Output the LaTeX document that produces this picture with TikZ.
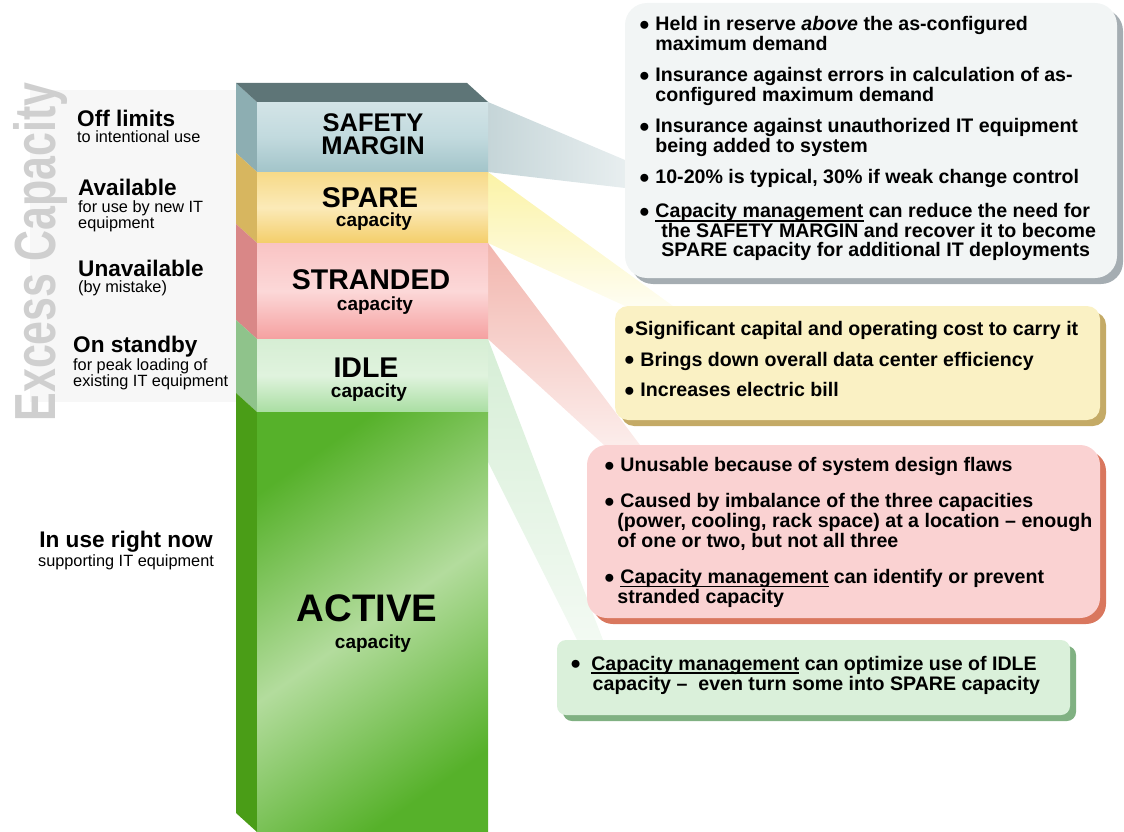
\documentclass[tikz,border=0pt]{standalone}
\usepackage{fontspec}
\setmainfont{Liberation Sans}
\usetikzlibrary{positioning, calc, shadows, backgrounds}

% bar colours: S = side, A/B/C = front face top/middle/bottom
\definecolor{topface}{HTML}{5E7577}
\definecolor{safetyS}{HTML}{8DAEB2}
\definecolor{safetyA}{HTML}{D3E4E7}
\definecolor{safetyB}{HTML}{C2DADE}
\definecolor{safetyC}{HTML}{A2C4C9}
\definecolor{spareS}{HTML}{D7B65F}
\definecolor{spareA}{HTML}{F7DA88}
\definecolor{spareB}{HTML}{FBEAB8}
\definecolor{spareC}{HTML}{F4CE6A}
\definecolor{strandedS}{HTML}{D98787}
\definecolor{strandedA}{HTML}{F9C4C4}
\definecolor{strandedB}{HTML}{FCD8D8}
\definecolor{strandedC}{HTML}{F5A0A0}
\definecolor{idleS}{HTML}{8FC38B}
\definecolor{idleA}{HTML}{D6EED4}
\definecolor{idleB}{HTML}{E0F3DE}
\definecolor{idleC}{HTML}{A9DEA2}
\definecolor{activeS}{HTML}{4A9D17}
\definecolor{activeA}{HTML}{56B12A}
\definecolor{activeB}{HTML}{B3DC9D}
\definecolor{activeC}{HTML}{56B12A}
% connectors
\definecolor{wedgeSafety}{HTML}{C5D5D8}
\definecolor{wedgeSpare}{HTML}{FBF3A6}
\definecolor{wedgeStranded}{HTML}{F2B6AE}
\definecolor{wedgeIdle}{HTML}{D6EED6}
% boxes and their shadows
\definecolor{boxSafety}{HTML}{F2F5F5}
\definecolor{shSafety}{HTML}{A5ADB2}
\definecolor{boxSpare}{HTML}{FAF1C4}
\definecolor{shSpare}{HTML}{C4AA66}
\definecolor{boxStranded}{HTML}{FAD2D2}
\definecolor{shStranded}{HTML}{D9775E}
\definecolor{boxIdle}{HTML}{DAF0DA}
\definecolor{shIdle}{HTML}{80B182}
\definecolor{panel}{HTML}{F7F7F7}
\definecolor{excess}{HTML}{CFCFCF}

\newcommand\capfont{\fontsize{19}{19}\selectfont\bfseries}
% bullet and a close underline for the box texts
\newcommand\bul{\makebox[8.6pt][l]{\hspace*{-2.5pt}\raisebox{0.6pt}{\fontsize{18.5}{19}\selectfont ●}}}
\newcommand\undl[1]{\setbox0=\hbox{#1}\rlap{\rule[-3.6pt]{\wd0}{1.4pt}}\box0\relax}

\tikzset{
    band/.style={rectangle, inner sep=0, outer sep=0, minimum width=231},
    barword/.style={anchor=base, inner sep=0},
    infobox/.style={rectangle, anchor=north west, inner sep=0, outer sep=0,
        fill=box#1, drop shadow={shadow xshift=6pt, shadow yshift=-6pt, opacity=1, fill=sh#1}},
    boxtext/.style={anchor=base west, inner sep=0, font=\bfseries},
    headlbl/.style={anchor=base west, inner sep=0, font=\fontsize{22.6}{22.6}\selectfont\bfseries},
    sublbl/.style={anchor=base west, inner sep=0, font=\fontsize{16.3}{16.3}\selectfont}
}

\begin{document}
\begin{tikzpicture}[x=1pt, y=-1pt]
    \useasboundingbox (0,0) rectangle (1124,832);

    % bar: side faces and front bands
    \foreach \name/\ya/\yb/\ang in {safety/102/172/0, spare/172/243/0,
        stranded/243/339/0, idle/339/412/0, active/412/832/35}
    {
        \fill[\name S] (236,\ya-19) -- (257,\ya) -- (257,\yb) -- (236,\yb-19) -- cycle;
        \node[band, minimum height=\yb-\ya, top color=\name A, bottom color=\name C,
            middle color=\name B, shading angle=\ang] (\name) at (372.5,{(\ya+\yb)/2}) {};
    }
    % top face
    \fill[topface] (236,83) -- (467,83) -- (safety.north east) -- (safety.north west) -- cycle;

    % bar labels
    \node[barword, font=\fontsize{25.5}{23}\selectfont\bfseries] (lsafety) at (373,131.7)
        {\parbox[t]{200pt}{\centering SAFETY\\MARGIN}};
    \foreach \name/\word/\size/\xa/\ya/\xb/\yb in {spare/SPARE/28.5/370/207.7/374/226.7,
        stranded/STRANDED/28.5/371/289/375/310.7, idle/IDLE/28.5/366/377/369/397,
        active/ACTIVE/38.4/367/621.7/373/648}
    {
        \node[barword, font=\fontsize{\size}{\size}\selectfont\bfseries] (l\name) at (\xa,\ya) {\word};
        \node[barword, font=\capfont] (c\name) at (\xb,\yb) {capacity};
    }

    % left labels
    \node[rotate=90, anchor=base, inner sep=0, text=excess, font=\fontsize{58}{58}\selectfont\bfseries]
        (excesslbl) at (55,252) {\scalebox{0.74}[1]{Excess Capacity}};
    \foreach \name/\xx/\yy/\gap/\head/\sub in {
        offlimits/77/126.9/15.5/{Off limits}/{to intentional use},
        available/78/195/17.3/{Available}/{for use by new IT\\equipment},
        unavailable/78/276.7/15.5/{Unavailable}/{(by mistake)},
        standby/73/352.7/17.3/{On standby}/{for peak loading of\\existing IT equipment}}
    {
        \node[headlbl] (\name) at (\xx,\yy) {\head};
        \node[sublbl] (\name-sub) at ($(\name.base west)+(0,\gap)$) {\parbox[t]{170pt}{\sub}};
    }
    \node[headlbl, anchor=base] (inuse) at (126,547.3) {In use right now};
    \node[sublbl, anchor=base] (inuse-sub) at ($(inuse.base)+(0,19.4)$) {supporting IT equipment};

    % boxes
    \node[infobox=Safety, rounded corners=22, minimum width=492, minimum height=275] (safetybox) at (625,3) {};
    \node[infobox=Spare, rounded corners=13, minimum width=485, minimum height=114] (sparebox) at (615,306) {};
    \node[infobox=Stranded, rounded corners=20, minimum width=513, minimum height=173] (strandedbox) at (587,445) {};
    \node[infobox=Idle, rounded corners=9, minimum width=513, minimum height=75] (idlebox) at (557,640) {};

    \node[boxtext] (safetytext) at ($(safetybox.north west)+(16.2,27.7)$)
        {\parbox[t]{480pt}{\raggedright\fontsize{19.6}{19.4}\selectfont
        \bul\ Held in reserve \textit{above} the as-configured\\
        \hspace*{14pt}maximum demand\\[12.3pt]
        \bul\ Insurance against errors in calculation of as-\\
        \hspace*{14pt}configured maximum demand\\[12.3pt]
        \bul\ Insurance against unauthorized IT equipment\\
        \hspace*{14pt}being added to system\\[12.3pt]
        \bul\ 10-20\% is typical, 30\% if weak change control\\[14.6pt]
        \bul\ \undl{Capacity management} can reduce the need for\\
        \hspace*{20pt}the SAFETY MARGIN and recover it to become\\
        \hspace*{20pt}SPARE capacity for additional IT deployments}};
    \node[boxtext] (sparetext) at ($(sparebox.north west)+(11.2,29.7)$)
        {\parbox[t]{475pt}{\raggedright\fontsize{19.6}{30.5}\selectfont
        \bul Significant capital and operating cost to carry it\\
        \bul\ Brings down overall data center efficiency\\
        \bul\ Increases electric bill}};
    \node[boxtext] (strandedtext) at ($(strandedbox.north west)+(19.2,26.7)$)
        {\parbox[t]{505pt}{\raggedright\fontsize{19.6}{19.8}\selectfont
        \bul\ Unusable because of system design flaws\\[16.2pt]
        \bul\ Caused by imbalance of the three capacities\\
        \hspace*{11pt}(power, cooling, rack space) at a location – enough\\
        \hspace*{11pt}of one or two, but not all three\\[16.6pt]
        \bul\ \undl{Capacity management} can identify or prevent\\
        \hspace*{11pt}stranded capacity}};
    \node[boxtext] (idletext) at ($(idlebox.north west)+(15.5,30)$)
        {\parbox[t]{505pt}{\raggedright\fontsize{19.6}{20}\selectfont
        \bul\hspace{10pt}\undl{Capacity management} can optimize use of IDLE\\
        \hspace*{20pt}capacity –\ \ even turn some into SPARE capacity}};

    % connectors and panel behind everything
    \begin{scope}[on background layer]
        \fill[panel] (30,90) rectangle (236,402);
        \shade[left color=wedgeSafety, right color=white!60!wedgeSafety]
            (safety.north east) -- ($(safetybox.north west)+(0,157)$)
            -- ($(safetybox.north west)+(0,185)$) -- (safety.south east) -- cycle;
        \shade[top color=wedgeSpare, bottom color=white!85!wedgeSpare]
            (spare.north east) -- ($(sparebox.north west)+(58,0)$)
            -- ($(sparebox.north west)+(10,0)$) -- (spare.south east) -- cycle;
        \shade[top color=wedgeStranded, bottom color=white!75!wedgeStranded]
            (stranded.north east) -- ($(strandedbox.north west)+(53,0)$)
            -- ($(strandedbox.north west)+(17,0)$) -- (stranded.south east) -- cycle;
        \shade[top color=wedgeIdle, bottom color=white!70!wedgeIdle]
            (idle.north east) -- ($(idlebox.north west)+(46,0)$)
            -- ($(idlebox.north west)+(20,0)$) -- ($(idle.south east)+(0,50)$) -- cycle;
    \end{scope}
\end{tikzpicture}
\end{document}
